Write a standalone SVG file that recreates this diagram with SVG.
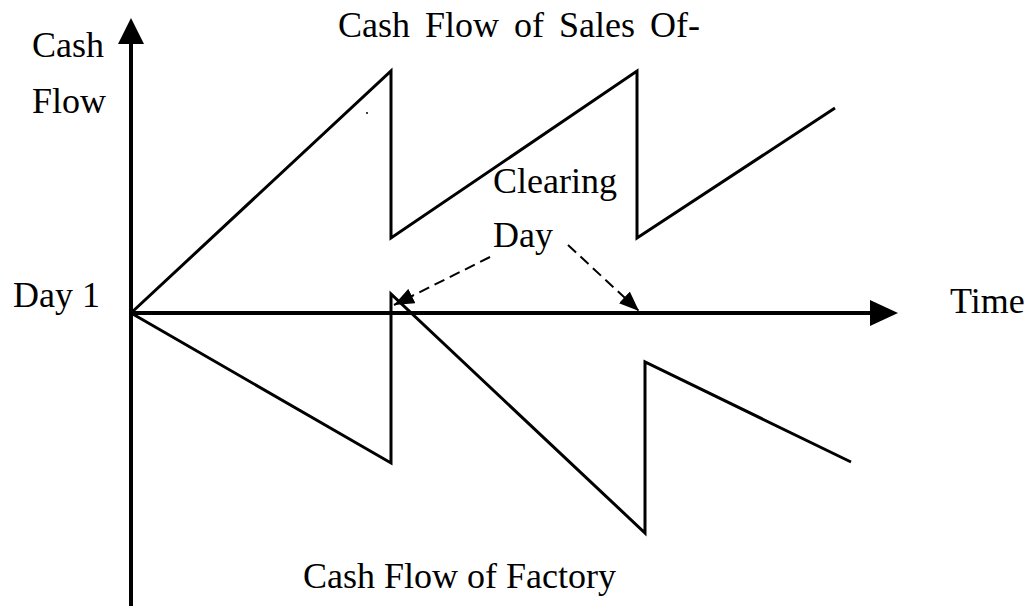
<svg xmlns="http://www.w3.org/2000/svg" width="1031" height="606" viewBox="0 0 1031 606">
<style>
text{font-family:"Liberation Serif","Times New Roman",serif;font-size:36px;fill:#000}
.axis{stroke:#000;stroke-width:4;fill:none}
.curve{stroke:#000;stroke-width:3;fill:none;stroke-linejoin:miter}
.dash{stroke:#000;stroke-width:2;fill:none;stroke-dasharray:11 6}
</style>
<defs>
<marker id="ah" viewBox="0 0 20 16" refX="20" refY="8" markerWidth="20" markerHeight="16" markerUnits="userSpaceOnUse" orient="auto">
<path d="M0,0 L20,8 L0,16 z" fill="#000" stroke="none"/>
</marker>
</defs>
<rect width="1031" height="606" fill="#fff"/>
<g id="axes">
<line class="axis" x1="131" y1="606" x2="131" y2="40"/>
<polygon points="131,18 118,44 144,44" fill="#000"/>
<line class="axis" x1="131" y1="313" x2="874" y2="313"/>
<polygon points="898,313 870,300 870,326" fill="#000"/>
</g>
<g id="sales-curve">
<polyline class="curve" points="131,313 391,71 391,238 637,71 637,238 835,108"/>
<circle cx="367" cy="113" r="1" fill="#000"/>
</g>
<g id="factory-curve">
<polyline class="curve" points="131,313 391,463 391,294 645,533 645,362 851,462"/>
</g>
<g id="connectors">
<path class="dash" d="M490,257 L394,305" marker-end="url(#ah)"/>
<path class="dash" d="M568,245 L639,311" marker-end="url(#ah)"/>
</g>
<g id="label-cashflow"><text x="32" y="57">Cash</text><text x="32" y="113">Flow</text></g>
<g id="label-sales"><text x="338" y="37" word-spacing="6">Cash Flow of Sales Of-</text></g>
<g id="label-clearing"><text x="493" y="193">Clearing</text><text x="493" y="247">Day</text></g>
<g id="label-day1"><text x="13" y="307">Day 1</text></g>
<g id="label-time"><text x="950" y="313">Time</text></g>
<g id="label-factory"><text x="303" y="588">Cash Flow of Factory</text></g>
</svg>
